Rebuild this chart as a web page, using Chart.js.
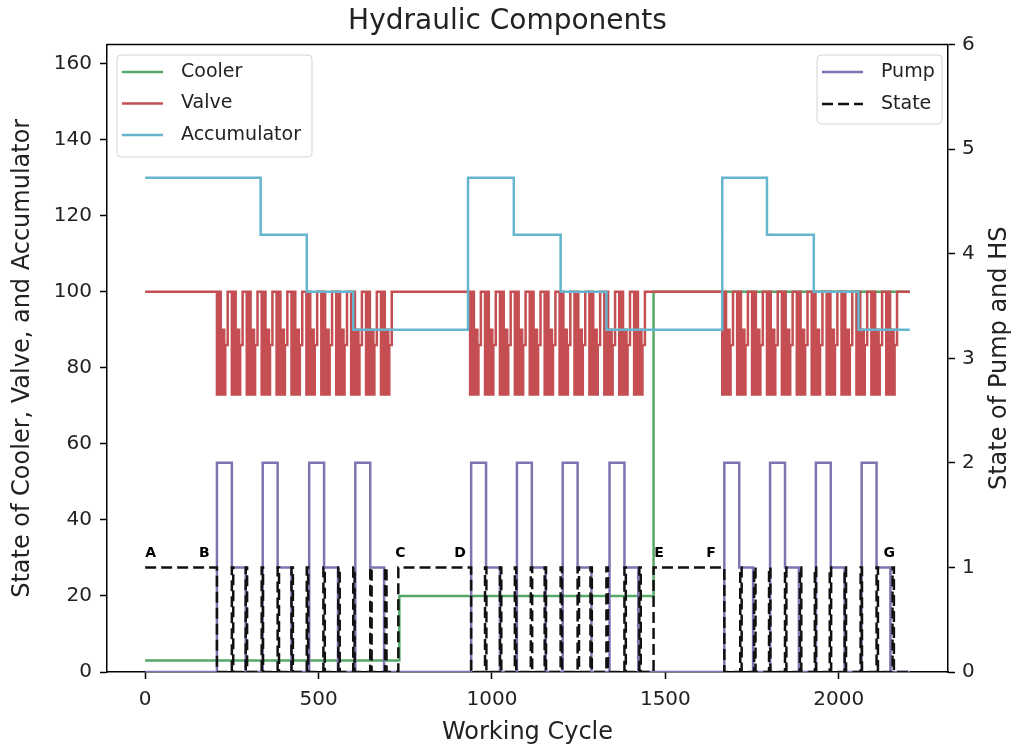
<!DOCTYPE html>
<html>
<head>
<meta charset="utf-8">
<title>Hydraulic Components</title>
<script src="https://cdn.jsdelivr.net/npm/chart.js@4.4.0/dist/chart.umd.min.js"></script>
<style>
  html, body { margin: 0; padding: 0; background: #fff; }
  canvas { display: block; }
</style>
</head>
<body>
<canvas id="hydraulicChart" width="1015" height="751"></canvas>
<script>
// --- data: step change points as [cycle, value] ---
const lastCycle = 2205;

const coolerSteps = [[0, 3], [733, 20], [1466, 100], [lastCycle, 100]];

const accumulatorSteps = [
  [0, 130], [333, 115], [466, 100], [600, 90],
  [931, 130], [1063, 115], [1198, 100], [1330, 90],
  [1664, 130], [1793, 115], [1928, 100], [2057, 90],
  [lastCycle, 90]
];

// valve runs: one tooth (offset, level) repeated through each run
const valveRunStarts = [207, 937, 1664];
const valveTeethPerRun = 12;
const valveToothLength = 43;
const valveTooth = [[0, 73], [5, 100], [11, 73], [14, 90], [21, 73], [24, 86], [31, 100]];

// pump: level 2, then level 1, then back to 0
const pumpPulseStarts = [207, 339, 473, 606, 940, 1072, 1204, 1339, 1670, 1802, 1934, 2066];
const pumpHighLength = 43;
const pumpMidLength = 40;

// stable flag: long stretches at 1, short spikes during the runs
const stateHighRanges = [[0, 207], [730, 940], [1466, 1670]];
const stateSpikes = [
  250, 290, 336, 382, 422, 466, 514, 557, 600, 649, 692,
  980, 1023, 1066, 1112, 1152, 1198, 1247, 1284, 1330, 1382, 1425,
  1716, 1756, 1799, 1845, 1888, 1931, 1974, 2017, 2063, 2109, 2155
];
const stateSpikeWidth = 4;

const phaseLabels = ['A', 'B', 'C', 'D', 'E', 'F', 'G'];
const phaseLabelCycles = [0, 155, 721, 891, 1468, 1618, 2129];
const phaseLabelLevel = 1.1;

const xTicks = [0, 500, 1000, 1500, 2000];
const leftTicks = [0, 20, 40, 60, 80, 100, 120, 140, 160];
const rightTicks = [0, 1, 2, 3, 4, 5, 6];

// --- build the step series ---
const valveSteps = [[0, 100]];
valveRunStarts.forEach(start => {
  for (let k = 0; k < valveTeethPerRun; k++) {
    valveTooth.forEach(([dx, v]) => valveSteps.push([start + k * valveToothLength + dx, v]));
  }
});
valveSteps.push([lastCycle, 100]);

const pumpSteps = [[0, 0]];
pumpPulseStarts.forEach(s => {
  pumpSteps.push([s, 2], [s + pumpHighLength, 1], [s + pumpHighLength + pumpMidLength, 0]);
});
pumpSteps.push([lastCycle, 0]);

const stateSteps = [];
stateHighRanges.forEach(([a, b]) => stateSteps.push([a, 1], [b, 0]));
stateSpikes.forEach(s => stateSteps.push([s, 1], [s + stateSpikeWidth, 0]));
stateSteps.sort((p, q) => p[0] - q[0]);
stateSteps.push([lastCycle, 0]);

const toPoints = steps => steps.map(([x, y]) => ({ x, y }));

const FONT = "'DejaVu Sans', sans-serif";
const TEXT = '#222';
const stateDash = [11, 5];

// legend boxes, phase letters, top spine and right axis title
const extras = {
  id: 'extras',
  afterDatasetsDraw(chart) {
    const ctx = chart.ctx;
    const area = chart.chartArea;
    const x = chart.scales.x;
    const y1 = chart.scales.y1;
    ctx.save();

    // top spine
    ctx.strokeStyle = '#000';
    ctx.lineWidth = 1.5;
    ctx.beginPath();
    ctx.moveTo(area.left, area.top);
    ctx.lineTo(area.right, area.top);
    ctx.stroke();

    // phase letters
    ctx.fillStyle = '#000';
    ctx.font = 'bold 14px ' + FONT;
    ctx.textAlign = 'left';
    ctx.textBaseline = 'alphabetic';
    phaseLabels.forEach((t, i) => {
      ctx.fillText(t, x.getPixelForValue(phaseLabelCycles[i]), y1.getPixelForValue(phaseLabelLevel));
    });

    // legends
    const drawLegend = (axisId, left, top, width, height, rowGap) => {
      const items = chart.data.datasets.filter(d => d.yAxisID === axisId);
      ctx.fillStyle = 'rgba(255,255,255,0.85)';
      ctx.strokeStyle = '#d4d4d4';
      ctx.lineWidth = 1;
      ctx.beginPath();
      ctx.roundRect(left, top, width, height, 4);
      ctx.fill();
      ctx.stroke();
      ctx.font = '19px ' + FONT;
      ctx.textBaseline = 'middle';
      items.forEach((d, i) => {
        const ry = top + 17 + i * rowGap;
        ctx.strokeStyle = d.borderColor;
        ctx.lineWidth = d.borderWidth;
        ctx.setLineDash(d.borderDash || []);
        ctx.beginPath();
        ctx.moveTo(left + 5, ry);
        ctx.lineTo(left + 46, ry);
        ctx.stroke();
        ctx.setLineDash([]);
        ctx.fillStyle = TEXT;
        ctx.fillText(d.label, left + 64, ry);
      });
    };
    drawLegend('y', 117, 55, 195, 102, 31.5);
    drawLegend('y1', 817, 55, 125, 69, 32);

    // right axis title, reading bottom to top
    ctx.translate(1000, (area.top + area.bottom) / 2);
    ctx.rotate(-Math.PI / 2);
    ctx.font = '24px ' + FONT;
    ctx.fillStyle = TEXT;
    ctx.textAlign = 'center';
    ctx.textBaseline = 'middle';
    ctx.fillText('State of Pump and HS', 0, 0);
    ctx.restore();
  }
};

const line = (label, steps, color, axis, order, extra) => Object.assign({
  label,
  data: toPoints(steps),
  yAxisID: axis,
  borderColor: color,
  backgroundColor: color,
  borderWidth: 2.5,
  stepped: true,
  pointRadius: 0,
  fill: false,
  order
}, extra || {});

const axisGrid = { display: true, drawOnChartArea: false, drawTicks: true, tickLength: 7, tickColor: '#000', tickWidth: 1.5 };
const axisBorder = { display: true, color: '#000', width: 1.5 };
const tickFont = { family: FONT, size: 20 };
const plainNumber = v => String(v);

new Chart(document.getElementById('hydraulicChart'), {
  type: 'line',
  data: {
    datasets: [
      line('Cooler', coolerSteps, '#55a868', 'y', 5),
      line('Valve', valveSteps, '#c44e52', 'y', 4),
      line('Accumulator', accumulatorSteps, '#64b5cd', 'y', 3),
      line('Pump', pumpSteps, '#8172b2', 'y1', 2),
      line('State', stateSteps, '#111111', 'y1', 1, { borderDash: stateDash })
    ]
  },
  options: {
    responsive: false,
    animation: false,
    devicePixelRatio: 1,
    layout: { padding: 0 },
    plugins: {
      legend: { display: false },
      tooltip: { enabled: false },
      title: {
        display: true,
        text: 'Hydraulic Components',
        color: TEXT,
        font: { family: FONT, size: 28, weight: 'normal' },
        padding: { top: 5, bottom: 6 }
      }
    },
    scales: {
      x: {
        type: 'linear',
        position: 'bottom',
        min: -110,
        max: 2315,
        afterFit: s => { s.height = 79; },
        afterBuildTicks: s => { s.ticks = xTicks.map(v => ({ value: v })); },
        grid: axisGrid,
        border: axisBorder,
        ticks: { font: tickFont, color: TEXT, padding: 9, maxRotation: 0, callback: plainNumber },
        title: {
          display: true,
          text: 'Working Cycle',
          color: TEXT,
          font: { family: FONT, size: 24 },
          padding: { top: 0, bottom: 4 }
        }
      },
      y: {
        type: 'linear',
        position: 'left',
        min: 0,
        max: 165,
        afterFit: s => { s.width = 107; },
        afterBuildTicks: s => { s.ticks = leftTicks.map(v => ({ value: v })); },
        grid: axisGrid,
        border: axisBorder,
        ticks: { font: tickFont, color: TEXT, padding: 8, callback: plainNumber },
        title: {
          display: true,
          text: 'State of Cooler, Valve, and Accumulator',
          color: TEXT,
          font: { family: FONT, size: 24 },
          padding: { top: 8, bottom: 0 }
        }
      },
      y1: {
        type: 'linear',
        position: 'right',
        min: 0,
        max: 6,
        afterFit: s => { s.width = 67; },
        afterBuildTicks: s => { s.ticks = rightTicks.map(v => ({ value: v })); },
        grid: axisGrid,
        border: axisBorder,
        ticks: { font: tickFont, color: TEXT, padding: 7, callback: plainNumber }
      }
    }
  },
  plugins: [extras]
});
</script>
</body>
</html>
